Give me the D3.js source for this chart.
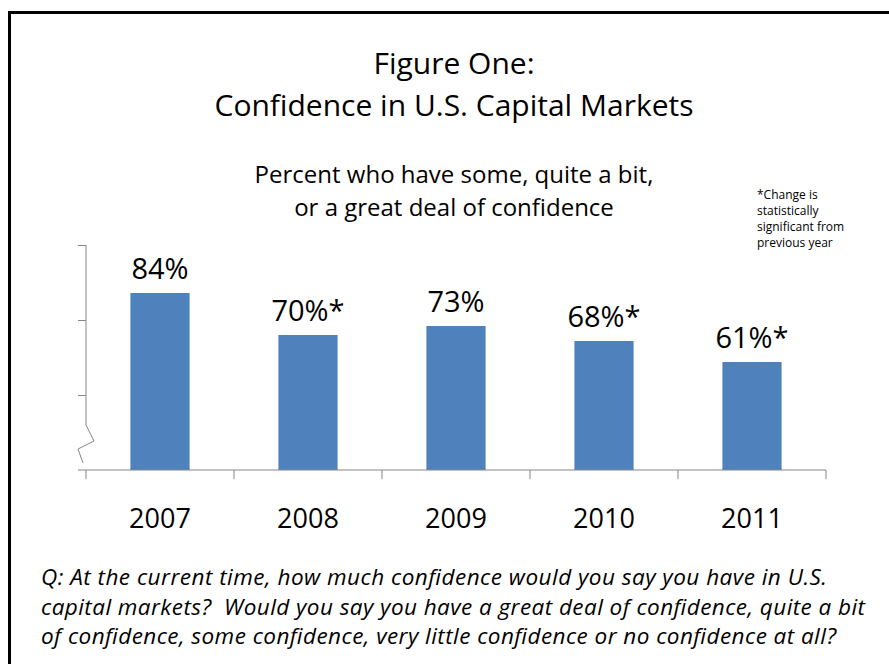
<!DOCTYPE html>
<html>
<head>
<meta charset="utf-8">
<script src="https://cdn.jsdelivr.net/npm/d3@7"></script>
<style>
  body { margin: 0; background: #fff; }
  svg { display: block; font-family: "Open Sans", Lato, sans-serif; }
  .question { white-space: pre; }
</style>
</head>
<body>
<div id="wrapper"></div>
<script>
// data
const years = ["2007", "2008", "2009", "2010", "2011"]
const confidence = [84, 70, 73, 68, 61]
const significant = [false, true, false, true, true]
const yTicks = [50, 75, 100]

const titleLines = ["Figure One:", "Confidence in U.S. Capital Markets"]
const subtitleLines = ["Percent who have some, quite a bit,", "or a great deal of confidence"]
const noteLines = ["*Change is", "statistically", "significant from", "previous year"]
const questionLines = [
  "Q: At the current time, how much confidence would you say you have in U.S.",
  "capital markets?  Would you say you have a great deal of confidence, quite a bit",
  "of confidence, some confidence, very little confidence or no confidence at all?"
]
// line lengths of the question text as laid out in the slide
const questionWidths = [786, 824, 795]

const data = years.map((year, i) => ({ year, value: confidence[i], sig: significant[i] }))

const xAccessor = d => d.year
const yAccessor = d => d.value

// dimensions
const dimensions = { width: 889, height: 664 }

const svg = d3.select("#wrapper")
  .append("svg")
  .attr("width", dimensions.width)
  .attr("height", dimensions.height)

// slide frame (runs off right and bottom)
svg.append("rect")
  .attr("x", 9.5)
  .attr("y", 12.5)
  .attr("width", 900)
  .attr("height", 700)
  .attr("fill", "none")
  .attr("stroke", "#000")
  .attr("stroke-width", 3)

// scales
const xScale = d3.scaleBand()
  .domain(years)
  .range([86, 826])
  .paddingInner(0.6)
  .paddingOuter(0.3)

const yScale = d3.scaleLinear()
  .domain([25, 100])
  .range([470, 245])

const axisColor = "#868686"

// titles
svg.append("text")
  .attr("text-anchor", "middle")
  .attr("font-size", 30)
  .attr("fill", "#000")
  .selectAll("tspan")
  .data(titleLines)
  .join("tspan")
  .attr("x", 454)
  .attr("y", (d, i) => 74 + i * 42)
  .text(d => d)

svg.append("text")
  .attr("text-anchor", "middle")
  .attr("font-size", 24)
  .attr("fill", "#000")
  .selectAll("tspan")
  .data(subtitleLines)
  .join("tspan")
  .attr("x", 454)
  .attr("y", (d, i) => 183 + i * 33)
  .text(d => d)

svg.append("text")
  .attr("font-size", 12)
  .attr("fill", "#000")
  .selectAll("tspan")
  .data(noteLines)
  .join("tspan")
  .attr("x", 757)
  .attr("y", (d, i) => 199 + i * 16)
  .text(d => d)

// bars
const bounds = svg.append("g")

bounds.selectAll("rect.bar")
  .data(data)
  .join("rect")
  .attr("class", "bar")
  .attr("x", d => xScale(xAccessor(d)))
  .attr("y", d => yScale(yAccessor(d)))
  .attr("width", xScale.bandwidth())
  .attr("height", d => yScale(25) - yScale(yAccessor(d)))
  .attr("fill", "#4F81BD")

bounds.selectAll("text.value")
  .data(data)
  .join("text")
  .attr("class", "value")
  .attr("x", d => xScale(xAccessor(d)) + xScale.bandwidth() / 2)
  .attr("y", d => yScale(yAccessor(d)) - 14)
  .attr("text-anchor", "middle")
  .attr("font-size", 29)
  .attr("fill", "#000")
  .text(d => d.value + "%" + (d.sig ? "*" : ""))

// y axis with ticks only, domain drawn by hand with a break
const yAxisGenerator = d3.axisLeft(yScale)
  .tickValues(yTicks)
  .tickSize(8)
  .tickFormat("")

const yAxis = bounds.append("g")
  .attr("transform", "translate(86,0)")
  .call(yAxisGenerator)

yAxis.select(".domain").remove()
yAxis.selectAll(".tick line").attr("stroke", axisColor)

// broken axis line
const y0 = yScale(25)
const breakPath = d3.line()([
  [86, yScale(100)],
  [86, y0 - 45],
  [94, y0 - 29],
  [78, y0 - 21],
  [83, y0 - 7]
])
bounds.append("path")
  .attr("d", breakPath)
  .attr("fill", "none")
  .attr("stroke", axisColor)
  .attr("stroke-width", 1)

// x axis
bounds.append("line")
  .attr("x1", 78)
  .attr("x2", xScale.range()[1])
  .attr("y1", y0)
  .attr("y2", y0)
  .attr("stroke", axisColor)

const step = xScale.step()
const edges = [xScale.range()[0]].concat(years.map(y => xScale(y) + xScale.bandwidth() + step * xScale.paddingInner() / 2))
bounds.selectAll("line.xtick")
  .data(edges)
  .join("line")
  .attr("class", "xtick")
  .attr("x1", d => d)
  .attr("x2", d => d)
  .attr("y1", y0)
  .attr("y2", y0 + 9)
  .attr("stroke", axisColor)

bounds.selectAll("text.year")
  .data(years)
  .join("text")
  .attr("class", "year")
  .attr("x", d => xScale(d) + xScale.bandwidth() / 2)
  .attr("y", 528)
  .attr("text-anchor", "middle")
  .attr("font-size", 27)
  .attr("fill", "#000")
  .text(d => d)

// question text
svg.append("text")
  .attr("class", "question")
  .attr("font-size", 22.5)
  .attr("font-style", "italic")
  .attr("fill", "#000")
  .selectAll("tspan")
  .data(questionLines)
  .join("tspan")
  .attr("x", 41)
  .attr("y", (d, i) => 585 + i * 29.7)
  .attr("textLength", (d, i) => questionWidths[i])
  .attr("lengthAdjust", "spacing")
  .text(d => d)
</script>
</body>
</html>
